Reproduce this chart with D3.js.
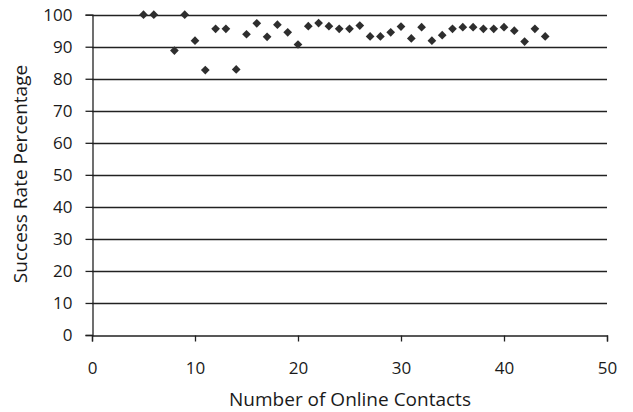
<!DOCTYPE html>
<html><head><meta charset="utf-8">
<script src="https://cdn.jsdelivr.net/npm/d3@7"></script>
<style>body{margin:0;background:#fff}svg{display:block}text{font-family:"Open Sans",sans-serif;fill:#1a1a1a}</style>
</head><body><svg id="c" width="633" height="412"></svg>
<script>
const contacts = [5,6,8,9,10,11,12,13,14,15,16,17,18,19,20,21,22,23,24,25,26,27,28,29,30,31,32,33,34,35,36,37,38,39,40,41,42,43,44];
const successRate = [100,100,88.8,100,91.9,82.7,95.6,95.6,82.9,93.9,97.3,93.1,96.9,94.5,90.7,96.4,97.4,96.4,95.6,95.6,96.6,93.2,93.2,94.5,96.3,92.6,96.1,91.9,93.6,95.6,96.1,96.1,95.6,95.6,96.1,95.0,91.6,95.6,93.2];
const xTicks = [0,10,20,30,40,50];
const yTicks = [0,10,20,30,40,50,60,70,80,90,100];
const xTitle = "Number of Online Contacts";
const yTitle = "Success Rate Percentage";

const svg = d3.select("#c");
const x = d3.scaleLinear().domain([0,50]).range([92,607]);
const y = d3.scaleLinear().domain([0,100]).range([335,14.7]);

// gridlines
svg.append("g").selectAll("line").data(yTicks.filter(d=>d>0)).join("line")
  .attr("x1",x(0)).attr("x2",x(50)).attr("y1",d=>Math.round(y(d))+0.5).attr("y2",d=>Math.round(y(d))+0.5)
  .attr("stroke","#222").attr("stroke-width",1.3);

// y axis
const ya = svg.append("g").attr("transform",`translate(${x(0)+0.5},0)`)
  .call(d3.axisLeft(y).tickValues(yTicks).tickSize(7).tickPadding(13));
ya.select(".domain").attr("stroke","#222").attr("stroke-width",1.3);
ya.selectAll(".tick line").attr("stroke","#222").attr("stroke-width",1.3);
ya.selectAll(".tick text").attr("font-size",17).attr("font-family","'Open Sans',sans-serif").attr("fill","#1a1a1a");

// x axis
const xa = svg.append("g").attr("transform",`translate(0,${Math.round(y(0))+0.5})`)
  .call(d3.axisBottom(x).tickValues(xTicks).tickSize(6).tickPadding(20));
xa.select(".domain").attr("stroke","#222").attr("stroke-width",1.3);
xa.selectAll(".tick line").attr("stroke","#222").attr("stroke-width",1.3);
xa.selectAll(".tick text").attr("font-size",17).attr("font-family","'Open Sans',sans-serif").attr("fill","#1a1a1a");

// points
svg.append("g").selectAll("path").data(contacts).join("path")
  .attr("d", d3.symbol().type(d3.symbolSquare).size(38))
  .attr("transform",(d,i)=>`translate(${x(d)},${y(successRate[i])}) rotate(45)`)
  .attr("fill","#2e2e2e");

svg.append("text").attr("x",(x(0)+x(50))/2+0.5).attr("y",406).attr("text-anchor","middle")
  .attr("font-size",19).text(xTitle);
svg.append("text").attr("transform",`translate(27,${174}) rotate(-90)`).attr("text-anchor","middle")
  .attr("font-size",19).text(yTitle);
</script></body></html>
